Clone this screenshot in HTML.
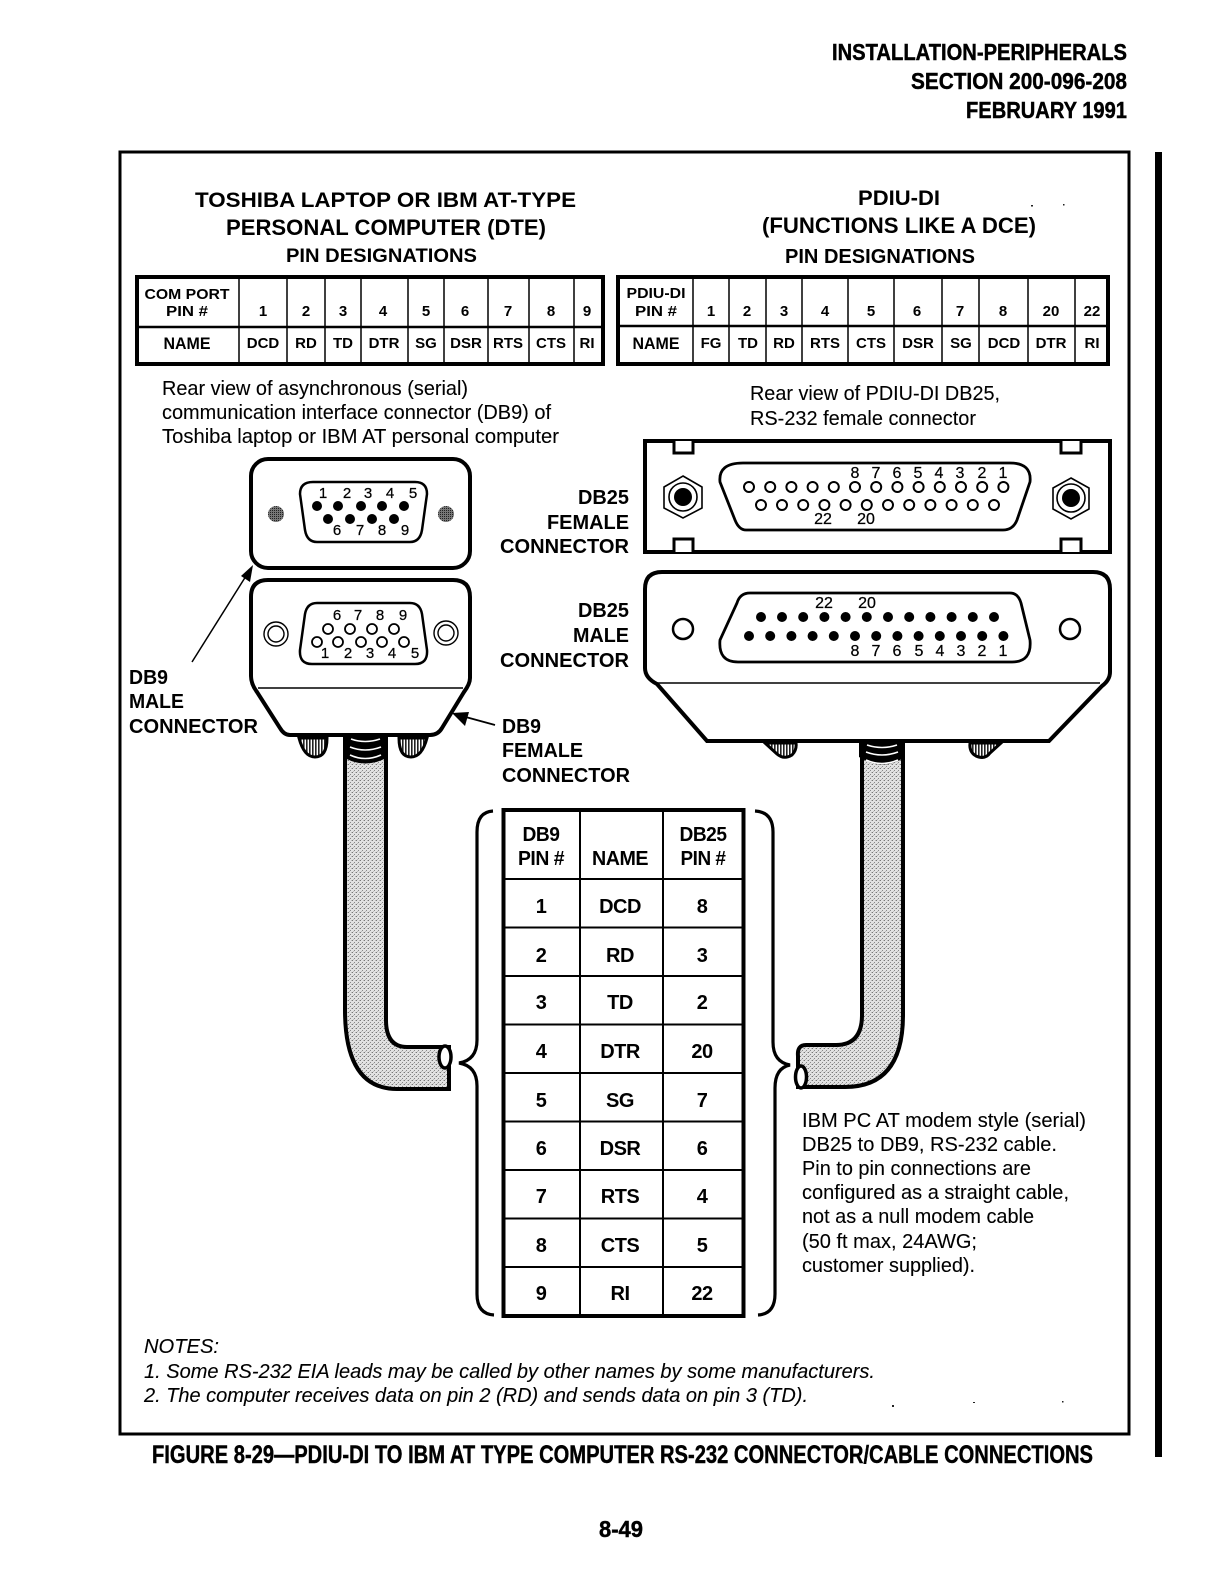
<!DOCTYPE html>
<html lang="en"><head><meta charset="utf-8"><title>Figure 8-29</title>
<style>
html,body{margin:0;padding:0;background:#fff}
svg{display:block}
text{font-family:"Liberation Sans",Arial,sans-serif;fill:#000}
.b{font-weight:700}
.h{font-weight:700;stroke:#000;stroke-width:.45px}
.i{font-style:italic}
.m{text-anchor:middle}
.t{font-size:15px;font-weight:700;text-anchor:middle}
.r{font-size:20px;font-weight:700;text-anchor:middle;letter-spacing:-.5px}
.p{font-size:15px;text-anchor:middle;font-weight:400;stroke:#000;stroke-width:.25px}
.q{font-size:16px;text-anchor:middle;font-weight:400;stroke:#000;stroke-width:.25px}
.n{font-size:20px;stroke:#000;stroke-width:.1px}
.l{font-size:20px;font-weight:700}
</style></head><body>
<svg xmlns="http://www.w3.org/2000/svg" width="1225" height="1592" viewBox="0 0 1225 1592">
<defs>
<pattern id="g" width="4" height="4" patternUnits="userSpaceOnUse"><rect width="4" height="4" fill="#e2e2e2"/><rect x="0" y="0" width="1" height="1" fill="#777"/><rect x="2" y="2" width="1" height="1" fill="#888"/><rect x="3" y="0" width="1" height="1" fill="#bbb"/><rect x="1" y="3" width="1" height="1" fill="#bbb"/></pattern>
<pattern id="h" width="3" height="6" patternUnits="userSpaceOnUse"><rect width="3" height="6" fill="#fff"/><rect width="1.6" height="6" fill="#222"/></pattern>
<pattern id="d" width="2" height="2" patternUnits="userSpaceOnUse"><rect width="2" height="2" fill="#777"/><rect width="1" height="1" fill="#222"/></pattern>
</defs>
<rect width="1225" height="1592" fill="#fff"/>

<!-- header -->
<g class="h" font-size="23" text-anchor="end">
<text x="1127" y="60" textLength="295" lengthAdjust="spacingAndGlyphs">INSTALLATION-PERIPHERALS</text>
<text x="1127" y="89" textLength="216" lengthAdjust="spacingAndGlyphs">SECTION 200-096-208</text>
<text x="1127" y="118" textLength="161" lengthAdjust="spacingAndGlyphs">FEBRUARY 1991</text>
</g>

<!-- frame -->
<rect x="120" y="152" width="1009" height="1282" fill="none" stroke="#000" stroke-width="3"/>
<rect x="1155" y="152" width="7" height="1305" fill="#000"/>

<!-- titles -->
<g class="b">
<text x="195" y="207" font-size="21" textLength="381" lengthAdjust="spacingAndGlyphs">TOSHIBA LAPTOP OR IBM AT-TYPE</text>
<text x="226" y="235" font-size="22" textLength="320" lengthAdjust="spacingAndGlyphs">PERSONAL COMPUTER (DTE)</text>
<text x="286" y="262" font-size="19" textLength="191" lengthAdjust="spacingAndGlyphs">PIN DESIGNATIONS</text>
<text x="858" y="205" font-size="21" textLength="82" lengthAdjust="spacingAndGlyphs">PDIU-DI</text>
<text x="762" y="233" font-size="22" textLength="274" lengthAdjust="spacingAndGlyphs">(FUNCTIONS LIKE A DCE)</text>
<text x="785" y="263" font-size="20" textLength="190" lengthAdjust="spacingAndGlyphs">PIN DESIGNATIONS</text>
</g>

<!-- left small table -->
<g fill="none" stroke="#000">
<rect x="137" y="277" width="466" height="87" stroke-width="4"/>
<path d="M137 327H603" stroke-width="2.5"/>
<path d="M239 277V364M287 277V364M325 277V364M361 277V364M408 277V364M444 277V364M488 277V364M529 277V364M574 277V364" stroke-width="1.5"/>
<rect x="618" y="277" width="490" height="87" stroke-width="4"/>
<path d="M618 326H1108" stroke-width="2.5"/>
<path d="M693 277V364M729 277V364M766 277V364M802 277V364M848 277V364M894 277V364M942 277V364M979 277V364M1028 277V364M1075 277V364" stroke-width="1.5"/>
</g>
<g class="t">
<text x="187" y="299" textLength="85" lengthAdjust="spacingAndGlyphs">COM PORT</text>
<text x="187" y="316" textLength="42" lengthAdjust="spacingAndGlyphs">PIN #</text>
<text x="187" y="349" font-size="17" textLength="47" lengthAdjust="spacingAndGlyphs">NAME</text>
<text x="263" y="316">1</text><text x="306" y="316">2</text><text x="343" y="316">3</text><text x="383" y="316">4</text><text x="426" y="316">5</text><text x="465" y="316">6</text><text x="508" y="316">7</text><text x="551" y="316">8</text><text x="587" y="316">9</text>
<text x="263" y="348">DCD</text><text x="306" y="348">RD</text><text x="343" y="348">TD</text><text x="384" y="348">DTR</text><text x="426" y="348">SG</text><text x="466" y="348">DSR</text><text x="508" y="348">RTS</text><text x="551" y="348">CTS</text><text x="587" y="348">RI</text>
<text x="656" y="298" textLength="59" lengthAdjust="spacingAndGlyphs">PDIU-DI</text>
<text x="656" y="316" textLength="42" lengthAdjust="spacingAndGlyphs">PIN #</text>
<text x="656" y="349" font-size="17" textLength="47" lengthAdjust="spacingAndGlyphs">NAME</text>
<text x="711" y="316">1</text><text x="747" y="316">2</text><text x="784" y="316">3</text><text x="825" y="316">4</text><text x="871" y="316">5</text><text x="917" y="316">6</text><text x="960" y="316">7</text><text x="1003" y="316">8</text><text x="1051" y="316">20</text><text x="1092" y="316">22</text>
<text x="711" y="348">FG</text><text x="748" y="348">TD</text><text x="784" y="348">RD</text><text x="825" y="348">RTS</text><text x="871" y="348">CTS</text><text x="918" y="348">DSR</text><text x="961" y="348">SG</text><text x="1004" y="348">DCD</text><text x="1051" y="348">DTR</text><text x="1092" y="348">RI</text>
</g>

<!-- rear view text -->
<g class="n">
<text x="162" y="395" textLength="306" lengthAdjust="spacingAndGlyphs">Rear view of asynchronous (serial)</text>
<text x="162" y="419" textLength="389" lengthAdjust="spacingAndGlyphs">communication interface connector (DB9) of</text>
<text x="162" y="443" textLength="397" lengthAdjust="spacingAndGlyphs">Toshiba laptop or IBM AT personal computer</text>
<text x="750" y="400" textLength="250" lengthAdjust="spacingAndGlyphs">Rear view of PDIU-DI DB25,</text>
<text x="750" y="425" textLength="226" lengthAdjust="spacingAndGlyphs">RS-232 female connector</text>
</g>

<!-- connector labels -->
<g class="l">
<text x="129" y="684" textLength="39" lengthAdjust="spacingAndGlyphs">DB9</text>
<text x="129" y="708" textLength="55" lengthAdjust="spacingAndGlyphs">MALE</text>
<text x="129" y="733" textLength="129" lengthAdjust="spacingAndGlyphs">CONNECTOR</text>
<text x="578" y="504" textLength="51" lengthAdjust="spacingAndGlyphs">DB25</text>
<text x="547" y="529" textLength="82" lengthAdjust="spacingAndGlyphs">FEMALE</text>
<text x="500" y="553" textLength="129" lengthAdjust="spacingAndGlyphs">CONNECTOR</text>
<text x="578" y="617" textLength="51" lengthAdjust="spacingAndGlyphs">DB25</text>
<text x="573" y="642" textLength="56" lengthAdjust="spacingAndGlyphs">MALE</text>
<text x="500" y="667" textLength="129" lengthAdjust="spacingAndGlyphs">CONNECTOR</text>
<text x="502" y="733" textLength="39" lengthAdjust="spacingAndGlyphs">DB9</text>
<text x="502" y="757" textLength="81" lengthAdjust="spacingAndGlyphs">FEMALE</text>
<text x="502" y="782" textLength="128" lengthAdjust="spacingAndGlyphs">CONNECTOR</text>
</g>

<!-- DB9 top -->
<rect x="251" y="459" width="219" height="109" rx="17" fill="#fff" stroke="#000" stroke-width="4"/>
<path d="M313 482H415Q427 482 427 494L422 530Q420 542 410 542H317Q307 542 305 530L300 494Q300 482 313 482Z" fill="#fff" stroke="#000" stroke-width="2.5"/>
<g fill="#000"><circle cx="317" cy="506" r="5"/><circle cx="338" cy="506" r="5"/><circle cx="361" cy="506" r="5"/><circle cx="382" cy="506" r="5"/><circle cx="404" cy="506" r="5"/><circle cx="328" cy="519" r="5"/><circle cx="350" cy="519" r="5"/><circle cx="372" cy="519" r="5"/><circle cx="394" cy="519" r="5"/></g>
<circle cx="276" cy="514" r="8" fill="url(#d)"/><circle cx="446" cy="514" r="8" fill="url(#d)"/>
<g class="p"><text x="323" y="498">1</text><text x="347" y="498">2</text><text x="368" y="498">3</text><text x="390" y="498">4</text><text x="413" y="498">5</text><text x="337" y="535">6</text><text x="360" y="535">7</text><text x="382" y="535">8</text><text x="405" y="535">9</text></g>

<!-- DB9 bottom -->
<path d="M268 580H453Q470 580 470 597V678Q470 684 464 692L442 728Q438 735 430 735H290Q284 735 280 728L257 692Q251 684 251 676V597Q251 580 268 580Z" fill="#fff" stroke="#000" stroke-width="4"/>
<path d="M258 688H463" stroke="#000" stroke-width="1.5"/>
<path d="M317 603H410Q420 603 422 614L427 650Q428 664 415 664H312Q299 664 300 650L305 614Q307 603 317 603Z" fill="#fff" stroke="#000" stroke-width="2.5"/>
<g fill="#fff" stroke="#000" stroke-width="1.8"><circle cx="328" cy="629" r="5"/><circle cx="350" cy="629" r="5"/><circle cx="372" cy="629" r="5"/><circle cx="394" cy="629" r="5"/><circle cx="317" cy="642" r="5"/><circle cx="338" cy="642" r="5"/><circle cx="361" cy="642" r="5"/><circle cx="382" cy="642" r="5"/><circle cx="404" cy="642" r="5"/></g>
<g fill="none" stroke="#000" stroke-width="1.4"><circle cx="276" cy="634" r="12"/><circle cx="276" cy="634" r="8"/><circle cx="446" cy="633" r="12"/><circle cx="446" cy="633" r="8"/></g>
<g class="p"><text x="337" y="620">6</text><text x="358" y="620">7</text><text x="380" y="620">8</text><text x="403" y="620">9</text><text x="325" y="658">1</text><text x="348" y="658">2</text><text x="370" y="658">3</text><text x="392" y="658">4</text><text x="415" y="658">5</text></g>

<!-- DB9 arrows -->
<path d="M192 662L246 576" stroke="#000" stroke-width="1.5" fill="none"/>
<path d="M253 565L241 576L250 582Z" fill="#000"/>
<path d="M495 725L462 716" stroke="#000" stroke-width="1.8" fill="none"/>
<path d="M452 713L469 712L465 726Z" fill="#000"/>

<!-- DB9 thumb screws -->
<path d="M299 738Q304 757 315 757Q327 757 327 738Z" fill="url(#h)" stroke="#000" stroke-width="3"/>
<path d="M399 738Q399 757 411 757Q422 757 427 738Z" fill="url(#h)" stroke="#000" stroke-width="3"/>

<!-- DB25 female -->
<rect x="645" y="441" width="465" height="111" fill="#fff" stroke="#000" stroke-width="4"/>
<g fill="#fff" stroke="#000" stroke-width="3"><path d="M674 441V453H693V441"/><path d="M1061 441V453H1081V441"/><path d="M674 552V539H693V552"/><path d="M1061 552V539H1081V552"/></g>
<path d="M743 463H1010Q1032 463 1030 482L1017 520Q1013 530 1003 530H746Q739 530 735 520L720 482Q718 463 743 463Z" fill="#fff" stroke="#000" stroke-width="2.8"/>
<g fill="#fff" stroke="#000" stroke-width="2">
<circle cx="749" cy="487" r="5"/><circle cx="770.2" cy="487" r="5"/><circle cx="791.4" cy="487" r="5"/><circle cx="812.6" cy="487" r="5"/><circle cx="833.8" cy="487" r="5"/><circle cx="855" cy="487" r="5"/><circle cx="876.2" cy="487" r="5"/><circle cx="897.4" cy="487" r="5"/><circle cx="918.6" cy="487" r="5"/><circle cx="939.8" cy="487" r="5"/><circle cx="961" cy="487" r="5"/><circle cx="982.2" cy="487" r="5"/><circle cx="1003.4" cy="487" r="5"/>
<circle cx="761" cy="505" r="5"/><circle cx="782" cy="505" r="5"/><circle cx="803.2" cy="505" r="5"/><circle cx="824.4" cy="505" r="5"/><circle cx="845.6" cy="505" r="5"/><circle cx="866.8" cy="505" r="5"/><circle cx="888" cy="505" r="5"/><circle cx="909.2" cy="505" r="5"/><circle cx="930.4" cy="505" r="5"/><circle cx="951.6" cy="505" r="5"/><circle cx="972.8" cy="505" r="5"/><circle cx="994" cy="505" r="5"/>
</g>
<g class="q"><text x="855" y="478">8</text><text x="876" y="478">7</text><text x="897" y="478">6</text><text x="918" y="478">5</text><text x="939" y="478">4</text><text x="960" y="478">3</text><text x="982" y="478">2</text><text x="1003" y="478">1</text><text x="823" y="524">22</text><text x="866" y="524">20</text></g>
<g fill="#fff" stroke="#000" stroke-width="1.6"><path d="M683 476L702 487V508L683 518L664 508V487Z"/><circle cx="683" cy="497" r="14"/><path d="M1071 478L1089 488V509L1071 519L1053 509V488Z"/><circle cx="1071" cy="498" r="14"/></g>
<circle cx="683" cy="497" r="9" fill="#000"/><circle cx="1071" cy="498" r="9" fill="#000"/>

<!-- DB25 male -->
<path d="M662 572H1093Q1110 572 1110 589V672Q1110 680 1102 686L1049 741H707L657 684Q645 678 645 668V589Q645 572 662 572Z" fill="#fff" stroke="#000" stroke-width="4"/>
<path d="M657 683H1100" stroke="#000" stroke-width="1.5"/>
<path d="M750 593H1010Q1018 593 1021 603L1030 640Q1032 662 1012 662H738Q718 662 720 640L737 603Q740 593 750 593Z" fill="#fff" stroke="#000" stroke-width="2.8"/>
<g fill="#000">
<circle cx="761" cy="617" r="5"/><circle cx="782" cy="617" r="5"/><circle cx="803.2" cy="617" r="5"/><circle cx="824.4" cy="617" r="5"/><circle cx="845.6" cy="617" r="5"/><circle cx="866.8" cy="617" r="5"/><circle cx="888" cy="617" r="5"/><circle cx="909.2" cy="617" r="5"/><circle cx="930.4" cy="617" r="5"/><circle cx="951.6" cy="617" r="5"/><circle cx="972.8" cy="617" r="5"/><circle cx="994" cy="617" r="5"/>
<circle cx="749" cy="636" r="5"/><circle cx="770.2" cy="636" r="5"/><circle cx="791.4" cy="636" r="5"/><circle cx="812.6" cy="636" r="5"/><circle cx="833.8" cy="636" r="5"/><circle cx="855" cy="636" r="5"/><circle cx="876.2" cy="636" r="5"/><circle cx="897.4" cy="636" r="5"/><circle cx="918.6" cy="636" r="5"/><circle cx="939.8" cy="636" r="5"/><circle cx="961" cy="636" r="5"/><circle cx="982.2" cy="636" r="5"/><circle cx="1003.4" cy="636" r="5"/>
</g>
<g class="q"><text x="824" y="608">22</text><text x="867" y="608">20</text><text x="855" y="656">8</text><text x="876" y="656">7</text><text x="897" y="656">6</text><text x="919" y="656">5</text><text x="940" y="656">4</text><text x="961" y="656">3</text><text x="982" y="656">2</text><text x="1003" y="656">1</text></g>
<circle cx="683" cy="629" r="10" fill="#fff" stroke="#000" stroke-width="2.5"/><circle cx="1070" cy="629" r="10" fill="#fff" stroke="#000" stroke-width="2.5"/>

<!-- DB25 thumb screws -->
<path d="M765 743L777 754Q784 760 792 755Q797 750 796 743Z" fill="url(#h)" stroke="#000" stroke-width="3"/>
<path d="M970 743Q969 752 976 756Q985 760 990 753L1001 743Z" fill="url(#h)" stroke="#000" stroke-width="3"/>

<!-- left cable -->
<path d="M345 745V1010Q345 1089 397 1089H449V1047H407Q386 1047 386 1020V745Z" fill="url(#g)" stroke="#000" stroke-width="4"/>
<path d="M343 735H388V757Q365 770 343 757Z" fill="#000"/>
<g fill="none" stroke="#fff" stroke-width="1.6"><path d="M351 739Q365 744 380 739"/><path d="M350 747Q365 753 381 747"/><path d="M350 755Q365 762 381 755"/></g>
<ellipse cx="445" cy="1057" rx="6" ry="11" fill="#fff" stroke="#000" stroke-width="3.5"/>

<!-- right cable -->
<path d="M862 745V1015Q862 1045 836 1045H806Q797 1045 798 1056V1087H845Q903 1087 903 1015V745Z" fill="url(#g)" stroke="#000" stroke-width="4"/>
<path d="M859 741H905V757Q883 772 859 757Z" fill="#000"/>
<g fill="none" stroke="#fff" stroke-width="1.6"><path d="M867 745Q882 750 897 745"/><path d="M866 752Q882 758 898 752"/><path d="M866 760Q882 767 898 760"/></g>
<ellipse cx="801" cy="1077" rx="5.5" ry="11" fill="#fff" stroke="#000" stroke-width="3.5"/>

<!-- braces -->
<g fill="none" stroke="#000" stroke-width="3.2">
<path d="M493 811Q477 812 477 832V1040Q477 1060 459 1063Q477 1066 477 1086V1294Q477 1314 494 1315"/>
<path d="M755 811Q773 812 773 832V1042Q773 1062 790 1065Q775 1068 775 1088V1294Q775 1314 758 1315"/>
</g>

<!-- main table -->
<g fill="none" stroke="#000">
<rect x="503.500" y="810" width="240" height="506" stroke-width="4"/>
<path d="M580 810V1316M663 810V1316" stroke-width="2"/>
<path d="M503 879H743M503 927.500H743M503 976H743M503 1024.500H743M503 1073H743M503 1121.500H743M503 1170H743M503 1218.500H743M503 1267H743" stroke-width="2"/>
</g>
<g class="r">
<text x="541" y="841" textLength="37" lengthAdjust="spacingAndGlyphs">DB9</text>
<text x="541" y="865" textLength="46" lengthAdjust="spacingAndGlyphs">PIN #</text>
<text x="620" y="865" textLength="56" lengthAdjust="spacingAndGlyphs">NAME</text>
<text x="703" y="841" textLength="47" lengthAdjust="spacingAndGlyphs">DB25</text>
<text x="703" y="865" textLength="45" lengthAdjust="spacingAndGlyphs">PIN #</text>
<text x="541" y="913">1</text><text x="620" y="913">DCD</text><text x="702" y="913">8</text>
<text x="541" y="962">2</text><text x="620" y="962">RD</text><text x="702" y="962">3</text>
<text x="541" y="1009">3</text><text x="620" y="1009">TD</text><text x="702" y="1009">2</text>
<text x="541" y="1058">4</text><text x="620" y="1058">DTR</text><text x="702" y="1058">20</text>
<text x="541" y="1107">5</text><text x="620" y="1107">SG</text><text x="702" y="1107">7</text>
<text x="541" y="1155">6</text><text x="620" y="1155">DSR</text><text x="702" y="1155">6</text>
<text x="541" y="1203">7</text><text x="620" y="1203">RTS</text><text x="702" y="1203">4</text>
<text x="541" y="1252">8</text><text x="620" y="1252">CTS</text><text x="702" y="1252">5</text>
<text x="541" y="1300">9</text><text x="620" y="1300">RI</text><text x="702" y="1300">22</text>
</g>

<!-- side note -->
<g class="n">
<text x="802" y="1127" textLength="284" lengthAdjust="spacingAndGlyphs">IBM PC AT modem style (serial)</text>
<text x="802" y="1151" textLength="255" lengthAdjust="spacingAndGlyphs">DB25 to DB9, RS-232 cable.</text>
<text x="802" y="1175" textLength="229" lengthAdjust="spacingAndGlyphs">Pin to pin connections are</text>
<text x="802" y="1199" textLength="267" lengthAdjust="spacingAndGlyphs">configured as a straight cable,</text>
<text x="802" y="1223" textLength="232" lengthAdjust="spacingAndGlyphs">not as a null modem cable</text>
<text x="802" y="1248" textLength="175" lengthAdjust="spacingAndGlyphs">(50 ft max, 24AWG;</text>
<text x="802" y="1272" textLength="173" lengthAdjust="spacingAndGlyphs">customer supplied).</text>
</g>

<!-- notes -->
<g class="n i">
<text x="144" y="1353" textLength="75" lengthAdjust="spacingAndGlyphs">NOTES:</text>
<text x="144" y="1378" textLength="731" lengthAdjust="spacingAndGlyphs">1. Some RS-232 EIA leads may be called by other names by some manufacturers.</text>
<text x="144" y="1402" textLength="664" lengthAdjust="spacingAndGlyphs">2. The computer receives data on pin 2 (RD) and sends data on pin 3 (TD).</text>
</g>

<!-- specks -->
<g fill="#222"><rect x="1031" y="205" width="2" height="1.500"/><rect x="1063" y="204" width="1.500" height="1.500"/><rect x="892" y="1405" width="2" height="2"/><rect x="973" y="1402" width="2" height="1"/><rect x="1062" y="1401" width="1.500" height="1.500"/></g>

<!-- caption -->
<text class="h" x="152" y="1463" font-size="25" textLength="941" lengthAdjust="spacingAndGlyphs">FIGURE 8-29—PDIU-DI TO IBM AT TYPE COMPUTER RS-232 CONNECTOR/CABLE CONNECTIONS</text>
<text class="h" x="599" y="1537" font-size="23" textLength="44" lengthAdjust="spacingAndGlyphs">8-49</text>
</svg>
</body></html>
